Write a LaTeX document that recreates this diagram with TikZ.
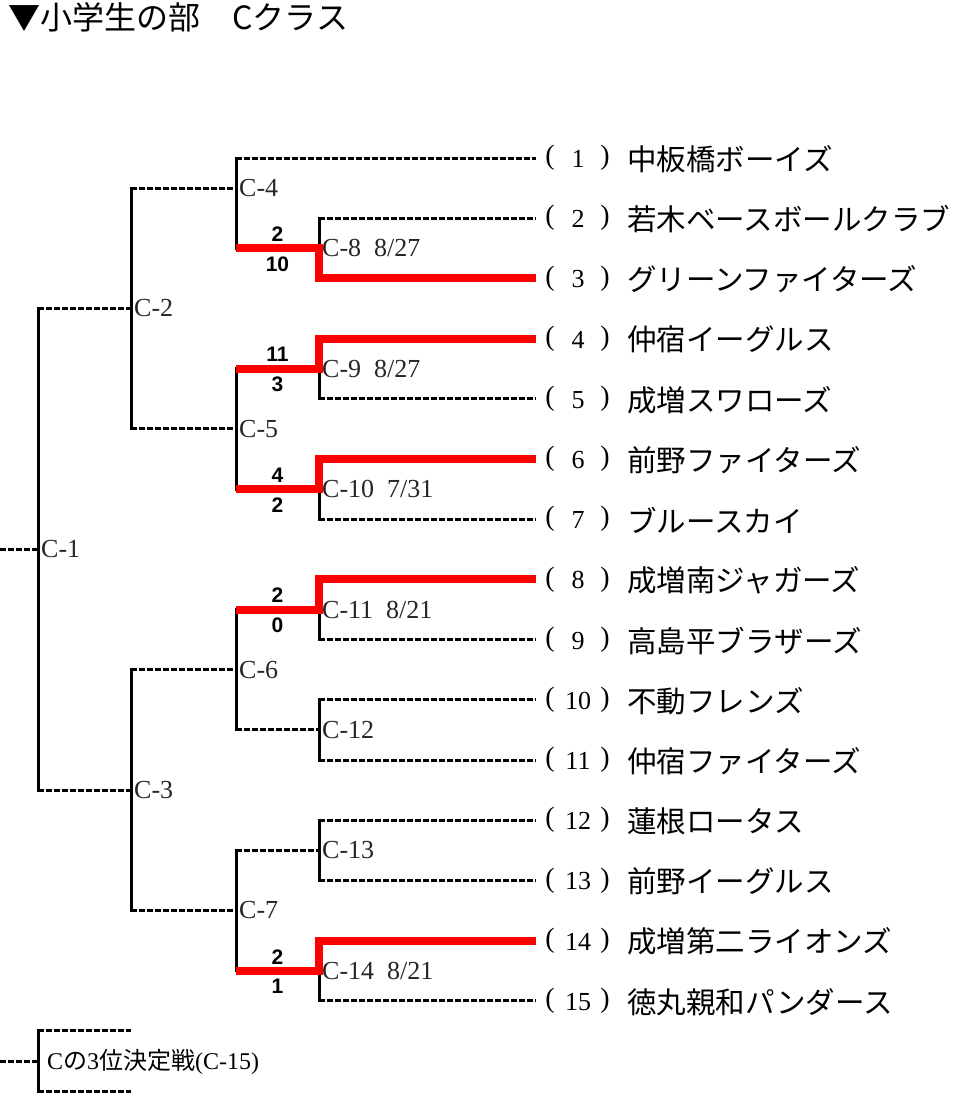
\documentclass[tikz,border=0pt]{standalone}
\usepackage{fontspec}
\setmainfont{Liberation Serif}
\newfontfamily\jp{Noto Sans CJK JP}
\newfontfamily\scorefont{Liberation Sans}
\newcommand{\gapsp}{\hspace{13pt}}
\begin{document}
\begin{tikzpicture}[x=1pt,y=-1pt,
  hl/.style={line width=3pt, dash pattern=on 6pt off 2pt},
  vl/.style={line width=3pt, line cap=rect},
  win/.style={line width=8pt, red, line join=miter},
  lbl/.style={anchor=west, inner sep=0pt, xshift=3pt, font=\fontsize{26}{26}\selectfont, text=black!85},
  score/.style={inner sep=0pt, font=\scorefont\bfseries\fontsize{21}{21}\selectfont},
  team/.style={anchor=west, inner sep=0pt, font=\jp\fontsize{29.5}{30}\selectfont},
  num/.style={inner sep=0pt, font=\fontsize{26}{26}\selectfont},
  par/.style={inner sep=0pt, font=\fontsize{28}{28}\selectfont}]
\fill[white] (0,0) rectangle (954,1093);
\useasboundingbox (0,0) rectangle (954,1093);

% title
\node[anchor=west, inner sep=0pt, font=\jp\fontsize{32}{32}\selectfont] (title) at (8,17) {▼小学生の部　Cクラス};

% columns
\coordinate (XO) at (0,0);
\coordinate (XA) at (38,0);
\coordinate (XB) at (131,0);
\coordinate (XC) at (236,0);
\coordinate (XD) at (319,0);
\coordinate (XS) at (277.5,0);

% half rows
\foreach \i in {1,...,16} {
  \coordinate (h\i) at (0,{158+60.2*(\i-0.5)});
}
\coordinate (t16) at (0,{158+60.2*15});

% team rows
\foreach \i/\tn in {1/中板橋ボーイズ,2/若木ベースボールクラブ,3/グリーンファイターズ,4/仲宿イーグルス,5/成増スワローズ,6/前野ファイターズ,7/ブルースカイ,8/成増南ジャガーズ,9/高島平ブラザーズ,10/不動フレンズ,11/仲宿ファイターズ,12/蓮根ロータス,13/前野イーグルス,14/成増第二ライオンズ,15/徳丸親和パンダース} {
  \coordinate (t\i) at (536,{158+60.2*(\i-1)});
  \node[par] (po\i) at (550,{158+60.2*(\i-1)}) {(};
  \node[num] (n\i) at (578,{159+60.2*(\i-1)}) {\i};
  \node[par] (pc\i) at (605,{158+60.2*(\i-1)}) {)};
  \node[team] (team\i) at (627,{159+60.2*(\i-1)}) {\tn};
}

% C-1
\draw[hl] (XO |- h7) -- (XA |- h7);
\draw[vl] (XA |- h3) -- (XA |- h11);
\draw[hl] (XA |- h3) -- (XB |- h3);
\draw[hl] (XA |- h11) -- (XB |- h11);
% C-2
\draw[vl] (XB |- h1) -- (XB |- h5);
\draw[hl] (XB |- h1) -- (XC |- h1);
\draw[hl] (XB |- h5) -- (XC |- h5);
% C-3
\draw[vl] (XB |- h9) -- (XB |- h13);
\draw[hl] (XB |- h9) -- (XC |- h9);
\draw[hl] (XB |- h13) -- (XC |- h13);
% C-4
\draw[vl] (XC |- t1) -- (XC |- h2);
\draw[hl] (XC |- t1) -- (t1);
% C-5
\draw[vl] (XC |- h4) -- (XC |- h6);
% C-6
\draw[vl] (XC |- h8) -- (XC |- h10);
\draw[hl] (XC |- h10) -- (XD |- h10);
% C-7
\draw[vl] (XC |- h12) -- (XC |- h14);
\draw[hl] (XC |- h12) -- (XD |- h12);
% C-8 .. C-14
\foreach \a/\b in {2/3,4/5,6/7,8/9,10/11,12/13,14/15} {
  \draw[vl] (XD |- t\a) -- (XD |- t\b);
  \draw[hl] (XD |- t\a) -- (t\a);
  \draw[hl] (XD |- t\b) -- (t\b);
}
% winners
\draw[win] (XC |- h2) -- (XD |- h2) -- (XD |- t3) -- (t3);
\draw[win] (XC |- h4) -- (XD |- h4) -- (XD |- t4) -- (t4);
\draw[win] (XC |- h6) -- (XD |- h6) -- (XD |- t6) -- (t6);
\draw[win] (XC |- h8) -- (XD |- h8) -- (XD |- t8) -- (t8);
\draw[win] (XC |- h14) -- (XD |- h14) -- (XD |- t14) -- (t14);

% C-15
\draw[hl] (XO |- t16) -- (XA |- t16);
\draw[vl] (XA |- h15) -- (XA |- h16);
\draw[hl] (XA |- h15) -- (XB |- h15);
\draw[hl] (XA |- h16) -- (XB |- h16);
\node[anchor=west, inner sep=0pt, font=\fontsize{24}{24}\selectfont] (c15) at (47,1062) {C{\jp の}3{\jp 位決定戦}(C-15)};

% match labels
\node[lbl] (c1) at (XA |- h7) {C-1};
\node[lbl] (c2) at (XB |- h3) {C-2};
\node[lbl] (c3) at (XB |- h11) {C-3};
\node[lbl] (c4) at (XC |- h1) {C-4};
\node[lbl] (c5) at (XC |- h5) {C-5};
\node[lbl] (c6) at (XC |- h9) {C-6};
\node[lbl] (c7) at (XC |- h13) {C-7};
\node[lbl] (c8) at (XD |- h2) {C-8\gapsp 8/27};
\node[lbl] (c9) at (XD |- h4) {C-9\gapsp 8/27};
\node[lbl] (c10) at (XD |- h6) {C-10\gapsp 7/31};
\node[lbl] (c11) at (XD |- h8) {C-11\gapsp 8/21};
\node[lbl] (c12) at (XD |- h10) {C-12};
\node[lbl] (c13) at (XD |- h12) {C-13};
\node[lbl] (c14) at (XD |- h14) {C-14\gapsp 8/21};

% scores
\node[score, yshift=14pt] (s8a) at (XS |- h2) {2};
\node[score, yshift=-16pt] (s8b) at (XS |- h2) {10};
\node[score, yshift=14pt] (s9a) at (XS |- h4) {11};
\node[score, yshift=-16pt] (s9b) at (XS |- h4) {3};
\node[score, yshift=14pt] (s10a) at (XS |- h6) {4};
\node[score, yshift=-16pt] (s10b) at (XS |- h6) {2};
\node[score, yshift=14pt] (s11a) at (XS |- h8) {2};
\node[score, yshift=-16pt] (s11b) at (XS |- h8) {0};
\node[score, yshift=14pt] (s14a) at (XS |- h14) {2};
\node[score, yshift=-16pt] (s14b) at (XS |- h14) {1};
\end{tikzpicture}
\end{document}
